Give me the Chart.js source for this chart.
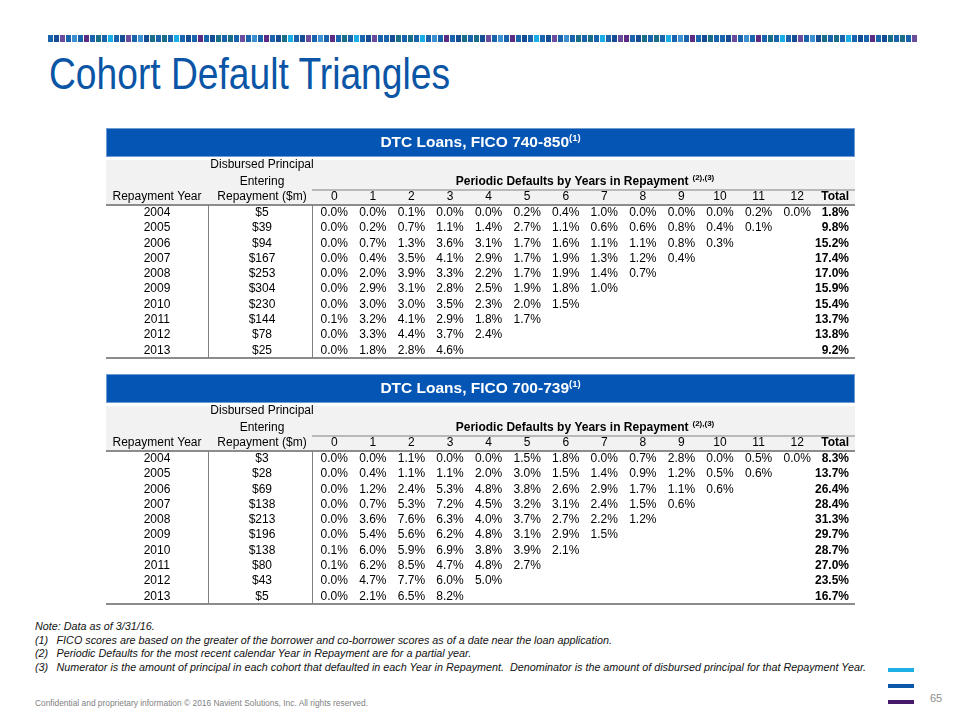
<!DOCTYPE html>
<html>
<head>
<meta charset="utf-8">
<title>Cohort Default Triangles</title>
<script src="https://cdn.jsdelivr.net/npm/chart.js@4.4.0/dist/chart.umd.min.js"></script>
<style>
  body { margin: 0; width: 960px; height: 720px; position: relative; overflow: hidden; background: #fff;
         font-family: "Liberation Sans", Arial, sans-serif; }
  #stripe { position: absolute; left: 48px; top: 35px; height: 7px; display: flex; }
  #stripe span { width: 5px; height: 7px; margin-right: 1px; }
  #title { position: absolute; left: 49px; top: 49px; margin: 0; font-weight: normal; font-size: 44px;
           color: #0B55A6; white-space: nowrap; transform-origin: left top; }
  canvas { position: absolute; left: 0; }
  #notes { position: absolute; left: 35px; top: 620px; font-size: 11px; line-height: 13.7px; font-style: italic;
           color: #111; white-space: nowrap; transform-origin: left top; }
  #notes .n { display: inline-block; width: 22px; }
  #footer { position: absolute; left: 35px; top: 698px; font-size: 8.5px; color: #7f7f7f; white-space: nowrap;
            transform-origin: left top; }
  #page { position: absolute; left: 930px; top: 692px; font-size: 11px; color: #8c8c8c; }
  .bar { position: absolute; left: 888px; width: 26px; height: 4px; }
</style>
</head>
<body>
<div id="stripe"></div>
<h1 id="title">Cohort Default Triangles</h1>

<canvas id="fico740" width="960" height="245" style="top:120px"></canvas>
<canvas id="fico700" width="960" height="245" style="top:365px"></canvas>

<div id="notes">
  <div>Note: Data as of 3/31/16.</div>
  <div><span class="n">(1)</span>FICO scores are based on the greater of the borrower and co-borrower scores as of a date near the loan application.</div>
  <div><span class="n">(2)</span>Periodic Defaults for the most recent calendar Year in Repayment are for a partial year.</div>
  <div id="note3"><span class="n">(3)</span>Numerator is the amount of principal in each cohort that defaulted in each Year in Repayment.&nbsp; Denominator is the amount of disbursed principal for that Repayment Year.</div>
</div>
<div id="footer">Confidential and proprietary information © 2016 Navient Solutions, Inc. All rights reserved.</div>
<div class="bar" style="top:668px;background:#1DAFE5"></div>
<div class="bar" style="top:684px;background:#0B58A8"></div>
<div class="bar" style="top:700px;background:#47196B"></div>
<div id="page">65</div>

<script>
// --- data ---
const repaymentYears = ['2004', '2005', '2006', '2007', '2008', '2009', '2010', '2011', '2012', '2013'];
const yearsInRepayment = ['0', '1', '2', '3', '4', '5', '6', '7', '8', '9', '10', '11', '12', 'Total'];

// FICO 740-850
const principal740 = [5, 39, 94, 167, 253, 304, 230, 144, 78, 25];
const defaults740 = [
  [0.0, 0.0, 0.1, 0.0, 0.0, 0.2, 0.4, 1.0, 0.0, 0.0, 0.0, 0.2, 0.0],
  [0.0, 0.2, 0.7, 1.1, 1.4, 2.7, 1.1, 0.6, 0.6, 0.8, 0.4, 0.1],
  [0.0, 0.7, 1.3, 3.6, 3.1, 1.7, 1.6, 1.1, 1.1, 0.8, 0.3],
  [0.0, 0.4, 3.5, 4.1, 2.9, 1.7, 1.9, 1.3, 1.2, 0.4],
  [0.0, 2.0, 3.9, 3.3, 2.2, 1.7, 1.9, 1.4, 0.7],
  [0.0, 2.9, 3.1, 2.8, 2.5, 1.9, 1.8, 1.0],
  [0.0, 3.0, 3.0, 3.5, 2.3, 2.0, 1.5],
  [0.1, 3.2, 4.1, 2.9, 1.8, 1.7],
  [0.0, 3.3, 4.4, 3.7, 2.4],
  [0.0, 1.8, 2.8, 4.6]
];
const totals740 = [1.8, 9.8, 15.2, 17.4, 17.0, 15.9, 15.4, 13.7, 13.8, 9.2];

// FICO 700-739
const principal700 = [3, 28, 69, 138, 213, 196, 138, 80, 43, 5];
const defaults700 = [
  [0.0, 0.0, 1.1, 0.0, 0.0, 1.5, 1.8, 0.0, 0.7, 2.8, 0.0, 0.5, 0.0],
  [0.0, 0.4, 1.1, 1.1, 2.0, 3.0, 1.5, 1.4, 0.9, 1.2, 0.5, 0.6],
  [0.0, 1.2, 2.4, 5.3, 4.8, 3.8, 2.6, 2.9, 1.7, 1.1, 0.6],
  [0.0, 0.7, 5.3, 7.2, 4.5, 3.2, 3.1, 2.4, 1.5, 0.6],
  [0.0, 3.6, 7.6, 6.3, 4.0, 3.7, 2.7, 2.2, 1.2],
  [0.0, 5.4, 5.6, 6.2, 4.8, 3.1, 2.9, 1.5],
  [0.1, 6.0, 5.9, 6.9, 3.8, 3.9, 2.1],
  [0.1, 6.2, 8.5, 4.7, 4.8, 2.7],
  [0.0, 4.7, 7.7, 6.0, 5.0],
  [0.0, 2.1, 6.5, 8.2]
];
const totals700 = [8.3, 13.7, 26.4, 28.4, 31.3, 29.7, 28.7, 27.0, 23.5, 16.7];

// --- look ---
const FONT = '"Liberation Sans", Arial, sans-serif';
const headerBlue = '#0556B4';
const headerGray = '#F2F2F2';
const ruleGray = '#8C8C8C';
const textColor = '#000000';

// decorative stripe at the top of the slide
const stripeColors = ['#1A64AE', '#1A64AE', '#5A2D82', '#1A6E88', '#1A64AE', '#164E96', '#3C8FD0',
                      '#1A64AE', '#1A64AE', '#19AEE6', '#6A4E9C', '#1A64AE', '#164E96', '#1A6E88'];
const stripe = document.getElementById('stripe');
for (let i = 0; i < 145; i++) {
  const s = document.createElement('span');
  s.style.background = stripeColors[(i * 5 + (i >> 3)) % stripeColors.length];
  stripe.appendChild(s);
}

// squeeze text blocks to the narrow face used on the slide
function fitWidth(el, target) {
  const w = el.getBoundingClientRect().width;
  el.style.transform = 'scaleX(' + (target / w) + ')';
}
fitWidth(document.getElementById('title'), 401);
document.getElementById('notes').style.display = 'inline-block';
const note3w = document.getElementById('note3').scrollWidth;
document.getElementById('notes').style.transform = 'scaleX(' + (831 / note3w) + ')';
fitWidth(document.getElementById('footer'), 333);

function drawWithSup(ctx, main, sup, cx, y, font, supFont, rise, gap) {
  ctx.font = font;
  const w1 = ctx.measureText(main).width;
  ctx.font = supFont;
  const w2 = ctx.measureText(sup).width;
  const start = cx - (w1 + gap + w2) / 2;
  ctx.textAlign = 'left';
  ctx.font = font;
  ctx.fillText(main, start, y);
  ctx.font = supFont;
  ctx.fillText(sup, start + w1 + gap, y - rise);
}

const tablePlugin = {
  id: 'cohortTable',
  beforeDraw(chart, args, opts) {
    const { ctx, chartArea: ca } = chart;
    const x0 = ca.left - 209;
    const w = ca.right - x0;
    ctx.save();
    ctx.fillStyle = headerBlue;
    ctx.fillRect(x0, ca.top - 77, w, 29);
    ctx.strokeStyle = '#6F9BD1';
    ctx.lineWidth = 1;
    ctx.strokeRect(x0 + 0.5, ca.top - 76.5, w - 1, 28);
    ctx.fillStyle = headerGray;
    ctx.fillRect(x0, ca.top - 45, w, 45);

    ctx.strokeStyle = '#A6A6A6';
    ctx.lineWidth = 1.5;
    ctx.beginPath();
    ctx.moveTo(ca.left - 3, ca.top - 15);
    ctx.lineTo(ca.right, ca.top - 15);
    ctx.stroke();

    ctx.strokeStyle = ruleGray;
    ctx.lineWidth = 2;
    ctx.beginPath();
    ctx.moveTo(x0, ca.top);
    ctx.lineTo(ca.right, ca.top);
    ctx.moveTo(x0, ca.bottom);
    ctx.lineTo(ca.right, ca.bottom);
    ctx.stroke();

    ctx.strokeStyle = '#808080';
    ctx.lineWidth = 1;
    ctx.beginPath();
    ctx.moveTo(ca.left - 106.5, ca.top);
    ctx.lineTo(ca.left - 106.5, ca.bottom);
    ctx.moveTo(ca.left - 2.5, ca.top);
    ctx.lineTo(ca.left - 2.5, ca.bottom);
    ctx.stroke();
    ctx.restore();
  },
  afterDatasetsDraw(chart, args, opts) {
    const { ctx, chartArea: ca, scales } = chart;
    const x0 = ca.left - 209;
    const normal = '12px ' + FONT;
    const bold = 'bold 12px ' + FONT;
    ctx.save();
    ctx.textBaseline = 'middle';

    // blue title bar
    ctx.fillStyle = '#ffffff';
    drawWithSup(ctx, opts.title, '(1)', (x0 + ca.right) / 2, ca.top - 62,
                'bold 15.5px ' + FONT, 'bold 9.5px ' + FONT, 5, 0);

    // column headings
    ctx.fillStyle = textColor;
    drawWithSup(ctx, 'Periodic Defaults by Years in Repayment', '(2),(3)', (ca.left + ca.right) / 2, ca.top - 23,
                bold, 'bold 8px ' + FONT, 4, 4);
    ctx.font = normal;
    ctx.textAlign = 'center';
    const yearX = ca.left - 158;
    const princX = ca.left - 53;
    ctx.fillText('Disbursed Principal', princX, ca.top - 40);
    ctx.fillText('Entering', princX, ca.top - 23);
    ctx.fillText('Repayment ($m)', princX, ca.top - 8);
    ctx.fillText('Repayment Year', yearX, ca.top - 8);

    const xs = scales.x;
    const colW = xs.width / xs.getLabels().length;
    xs.getLabels().forEach((lab, i) => {
      const px = xs.getPixelForValue(i);
      if (lab === 'Total') {
        ctx.font = bold;
        ctx.textAlign = 'right';
        ctx.fillText(lab, px + colW / 2 - 6, ca.top - 8);
      } else {
        ctx.font = normal;
        ctx.textAlign = 'center';
        ctx.fillText(lab, px, ca.top - 8);
      }
    });

    // row headings: repayment year and disbursed principal
    const ys = scales.y;
    ctx.font = normal;
    ctx.textAlign = 'center';
    ys.getLabels().forEach((lab, i) => {
      const py = ys.getPixelForValue(i);
      ctx.fillText(lab, yearX, py);
      ctx.fillText('$' + opts.principal[i], princX, py);
    });

    // cells from the dataset elements
    chart.data.datasets.forEach((ds, d) => {
      const meta = chart.getDatasetMeta(d);
      ctx.font = ds.isTotal ? bold : normal;
      ctx.textAlign = ds.isTotal ? 'right' : 'center';
      meta.data.forEach((pt, i) => {
        const txt = ds.data[i].v.toFixed(1) + '%';
        ctx.fillText(txt, ds.isTotal ? pt.x + colW / 2 - 6 : pt.x, pt.y);
      });
    });
    ctx.restore();
  }
};

function makeTable(id, title, principal, defaults, totals, padTop) {
  const cells = [];
  defaults.forEach((row, r) => {
    row.forEach((v, c) => cells.push({ x: yearsInRepayment[c], y: repaymentYears[r], v: v }));
  });
  const totalCells = totals.map((v, r) => ({ x: 'Total', y: repaymentYears[r], v: v }));

  return new Chart(document.getElementById(id), {
    type: 'scatter',
    data: {
      datasets: [
        { label: 'Periodic defaults', data: cells, pointRadius: 0, pointHoverRadius: 0 },
        { label: 'Total', data: totalCells, pointRadius: 0, pointHoverRadius: 0, isTotal: true }
      ]
    },
    options: {
      responsive: false,
      animation: false,
      events: [],
      layout: { padding: { left: 315, right: 105, top: padTop, bottom: 245 - padTop - 153 } },
      plugins: {
        legend: { display: false },
        tooltip: { enabled: false },
        cohortTable: { title: title, principal: principal }
      },
      scales: {
        x: { type: 'category', labels: yearsInRepayment, offset: true, display: false },
        y: { type: 'category', labels: repaymentYears, offset: true, display: false }
      }
    },
    plugins: [tablePlugin]
  });
}

makeTable('fico740', 'DTC Loans, FICO 740-850', principal740, defaults740, totals740, 85);
makeTable('fico700', 'DTC Loans, FICO 700-739', principal700, defaults700, totals700, 86);
</script>
</body>
</html>
